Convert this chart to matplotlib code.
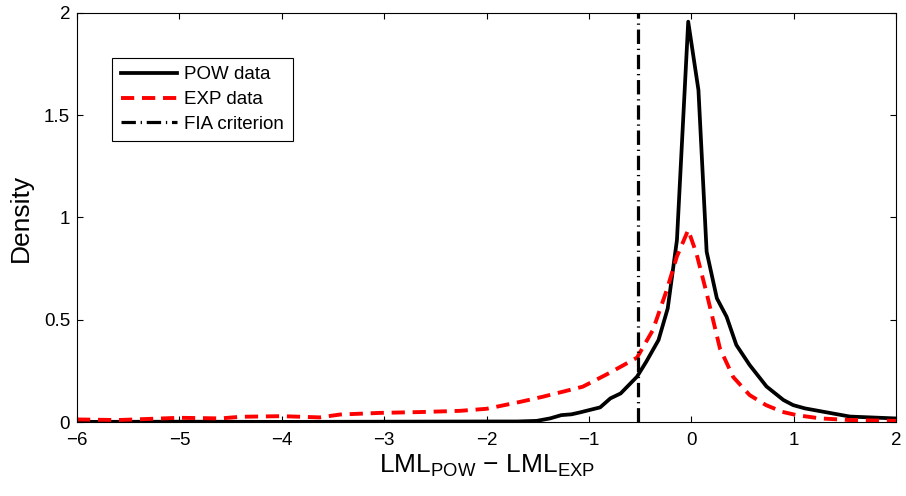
import numpy as np
import matplotlib.pyplot as plt

### ======================================================================
### Density curves.
### ======================================================================

pow_x = [-6.0, -5.0, -4.0, -3.0, -2.0, -1.7, -1.51, -1.38, -1.27, -1.17,
         -1.09, -0.89, -0.79, -0.69, -0.53, -0.44, -0.32, -0.23, -0.14,
         -0.03, 0.07, 0.15, 0.25, 0.345, 0.44, 0.57, 0.735, 0.90, 0.995,
         1.11, 1.285, 1.55, 1.99]
pow_y = [0.001, 0.002, 0.001, 0.002, 0.003, 0.003, 0.006, 0.018, 0.034,
         0.038, 0.047, 0.072, 0.116, 0.14, 0.222, 0.295, 0.401, 0.556,
         0.89, 1.957, 1.623, 0.833, 0.605, 0.515, 0.377, 0.279, 0.174,
         0.108, 0.083, 0.067, 0.051, 0.027, 0.018]

exp_x = [-6.0, -5.6, -5.0, -4.6, -4.4, -4.0, -3.63, -3.43, -3.04, -2.65,
         -2.26, -2.0, -1.67, -1.45, -1.06, -0.8, -0.53, -0.375, -0.24,
         -0.14, -0.03, 0.05, 0.15, 0.28, 0.41, 0.57, 0.73, 0.89, 1.03,
         1.26, 1.55, 2.0]
exp_y = [0.013, 0.01, 0.021, 0.018, 0.026, 0.029, 0.023, 0.037, 0.045,
         0.049, 0.055, 0.065, 0.099, 0.124, 0.173, 0.24, 0.315, 0.45,
         0.645, 0.81, 0.939, 0.825, 0.63, 0.36, 0.22, 0.132, 0.083, 0.05,
         0.034, 0.018, 0.01, 0.006]

fia_x = -0.52

xticks = [-6, -5, -4, -3, -2, -1, 0, 1, 2]
yticks = [0, 0.5, 1, 1.5, 2]
ytick_labels = ['0', '0.5', '1', '1.5', '2']

### ======================================================================
### Plot
### ======================================================================

plt.rcParams['font.family'] = ['Liberation Sans', 'DejaVu Sans']
plt.rcParams['mathtext.fontset'] = 'custom'
plt.rcParams['mathtext.rm'] = 'Liberation Sans'

fig = plt.figure(figsize=(9.06, 4.96), dpi=100)
ax = fig.add_axes([0.085, 0.149, 0.904, 0.825])

ax.plot(pow_x, pow_y, '-', c='k', lw=2.7, label='POW data')
ax.plot(exp_x, exp_y, '--', c='r', lw=2.8, dashes=(3.4, 2.0), label='EXP data')
ax.plot([fia_x, fia_x], [0, 2], c='k', lw=2.3, dashes=(4.5, 1.5, 0.4, 1.5),
        label='FIA criterion')

ax.set_xlim(-6, 2)
ax.set_ylim(0, 2)
ax.set_xticks(xticks)
ax.set_xticklabels(['\u2212%d' % -t if t < 0 else '%d' % t for t in xticks])
ax.set_yticks(yticks)
ax.set_yticklabels(ytick_labels)
ax.tick_params(direction='in', top=True, right=True, length=4.5, width=0.8,
               labelsize=13.5)
ax.tick_params(axis='x', pad=7)
ax.tick_params(axis='y', pad=5)
for s in ax.spines.values():
    s.set_linewidth(0.8)

ax.set_xlabel('LML$_{\\mathrm{POW}}$ \u2212 LML$_{\\mathrm{EXP}}$',
              fontsize=19, labelpad=3)
ax.set_ylabel('Density', fontsize=19, labelpad=8)

leg = ax.legend(loc='upper left', bbox_to_anchor=(0.043, 0.89), borderaxespad=0,
                fontsize=13.5, fancybox=False, framealpha=1, edgecolor='k',
                handlelength=3.0, handletextpad=0.4, labelspacing=0.4,
                borderpad=0.45)
leg.get_frame().set_linewidth(0.8)

plt.savefig('out.png', dpi=100)
